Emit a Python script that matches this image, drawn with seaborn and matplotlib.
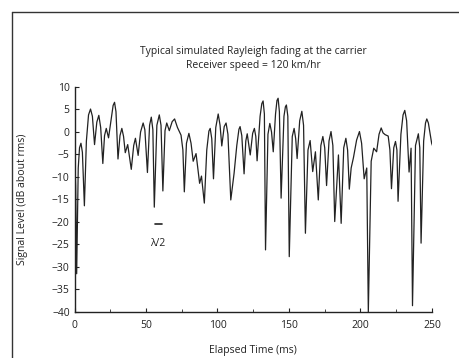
import seaborn as sns
import matplotlib
matplotlib.use("Agg")
import matplotlib.pyplot as plt
from matplotlib.lines import Line2D
import pandas as pd

# points: time in ms
time_ms = [0.0, 0.8, 1.5, 2.6, 3.5, 4.5, 5.5, 6.9, 8.3, 9.8,
           11.2, 12.5, 14.0, 15.6, 17.0, 18.3, 19.8, 21.0, 22.2, 23.8,
           25.5, 27.0, 28.0, 29.0, 30.4, 31.8, 33.1, 34.3, 35.5, 37.2,
           39.7, 41.4, 42.6, 44.5, 46.2, 48.0, 49.2, 51.0, 52.5, 53.7,
           54.8, 55.8, 57.6, 59.3, 60.5, 61.8, 63.3, 64.5, 66.3, 68.3,
           70.0, 72.0, 74.5, 75.8, 76.8, 78.3, 80.0, 81.5, 83.0, 85.0,
           87.5, 88.8, 90.8, 92.5, 94.0, 94.9, 96.0, 97.2, 98.8, 100.5,
           101.8, 103.0, 104.7, 106.0, 107.3, 109.3, 111.6, 113.5, 115.0, 115.8,
           117.0, 118.6, 119.8, 120.8, 122.9, 124.6, 125.8, 126.8, 127.7, 129.8,
           131.0, 131.9, 132.8, 133.6, 135.3, 136.6, 137.8, 139.0, 140.6, 141.6,
           142.4, 143.3, 144.5, 146.5, 147.5, 148.2, 149.2, 150.2, 152.3, 153.6,
           154.7, 155.7, 157.5, 159.0, 160.2, 161.5, 163.3, 164.8, 166.6, 168.5,
           170.5, 172.3, 173.7, 175.0, 176.3, 178.0, 179.4, 180.7, 182.0, 184.6,
           186.5, 188.3, 189.8, 191.0, 192.2, 193.5, 195.1, 197.3, 199.3, 200.8,
           202.6, 204.4, 205.5, 207.5, 209.3, 211.3, 213.0, 214.5, 215.8, 217.3,
           219.4, 220.6, 221.7, 223.3, 224.5, 225.5, 226.3, 228.3, 229.8, 231.0,
           232.3, 234.0, 235.4, 236.4, 238.5, 240.5, 241.5, 242.4, 244.2, 245.5,
           246.4, 247.5, 249.0, 249.8, 251.5]
# level in dB about rms at the same points
level_db = [-4.0, -12.0, -31.5, -8.0, -3.5, -2.5, -4.5, -16.4, -2.0, 3.8,
            5.1, 3.5, -2.8, 2.2, 3.7, 1.0, -7.0, -0.8, 0.8, -1.3,
            2.5, 5.9, 6.6, 4.5, -6.0, -0.8, 0.8, -1.0, -4.6, -2.8,
            -8.3, -3.0, -1.4, -5.2, 0.0, 2.0, 0.5, -9.0, 1.5, 3.3,
            0.5, -16.7, 1.5, 3.8, 1.5, -13.1, 0.3, 2.0, 0.3, 2.3,
            2.9, 1.0, -0.7, -4.0, -13.3, -2.5, -0.3, -2.5, -6.5, -4.8,
            -11.4, -9.8, -15.8, -4.0, 0.2, 0.8, -1.5, -10.4, 1.0, 4.0,
            1.5, -3.1, 1.2, 2.0, -0.5, -15.1, -9.2, -3.0, 0.6, 1.2,
            -0.8, -9.3, -2.0, -0.4, -5.1, -0.3, 0.8, -1.0, -6.4, 3.5,
            6.3, 6.9, 4.0, -26.2, -0.5, 1.9, 0.0, -4.4, 4.0, 7.0,
            7.5, 4.5, -14.7, 3.5, 5.6, 6.0, 3.5, -27.7, -1.0, 0.8,
            -1.5, -5.9, 2.5, 4.6, 1.5, -22.5, -4.0, -1.9, -8.8, -4.4,
            -15.1, -3.0, -1.0, -3.5, -11.9, -2.0, 0.1, -3.0, -19.9, -5.1,
            -20.3, -3.5, -1.4, -4.0, -12.7, -8.0, -5.7, -1.8, 0.1, -2.5,
            -10.4, -8.0, -40.0, -6.5, -3.6, -4.4, -0.5, 0.9, -0.2, -0.6,
            -0.9, -4.0, -12.6, -3.5, -2.1, -4.0, -15.4, -0.5, 3.8, 4.8,
            2.5, -8.9, -3.6, -38.6, -3.0, -0.4, -3.5, -24.7, -2.0, 2.0,
            2.9, 2.0, -1.0, -2.5, -4.0]

x_ticks = [0, 50, 100, 150, 200, 250]
x_minor = [25, 75, 125, 175, 225]
y_ticks = [10, 5, 0, -5, -10, -15, -20, -25, -30, -35, -40]

df = pd.DataFrame({"t": time_ms, "db": level_db})

sns.set_style("ticks")
plt.rcParams["font.family"] = ["Open Sans", "DejaVu Sans"]
ink = "#222222"

fig = plt.figure(figsize=(4.6, 3.58), dpi=100)
ax = fig.add_axes([0.162, 0.1285, 0.777, 0.6285])

sns.lineplot(data=df, x="t", y="db", ax=ax, color=ink, linewidth=0.9)

ax.set_xlim(0, 250)
ax.set_ylim(-40, 10)
ax.set_xticks(x_ticks)
ax.set_xticks(x_minor, minor=True)
ax.set_yticks(y_ticks)
ax.tick_params(direction="in", length=3, width=0.8, labelsize=7.5, colors=ink)
ax.tick_params(which="minor", direction="in", length=2, width=0.6)
ax.tick_params(axis="x", pad=6)
sns.despine(ax=ax)
for s in ["left", "bottom"]:
    ax.spines[s].set_linewidth(1.0)
    ax.spines[s].set_color(ink)

ax.set_xlabel("Elapsed Time (ms)", fontsize=7.5, color=ink)
ax.set_ylabel("Signal Level (dB about rms)", fontsize=7.5, color=ink)
ax.xaxis.set_label_coords(0.5, -0.145)
ax.yaxis.set_label_coords(-0.13, 0.5)

# half-wavelength marker
ax.plot([56, 61], [-20.4, -20.4], color=ink, linewidth=1.2)
ax.text(58.5, -24.8, "λ/2", fontsize=7.5, ha="center", va="center", color=ink)

fig.text(0.55, 0.855, "Typical simulated Rayleigh fading at the carrier",
         fontsize=7.5, ha="center", va="center", color=ink)
fig.text(0.55, 0.816, "Receiver speed = 120 km/hr",
         fontsize=7.5, ha="center", va="center", color=ink)

# scanned page border
fig.add_artist(Line2D([0.026, 1.0], [0.966, 0.966], color="#333333", linewidth=1.0))
fig.add_artist(Line2D([0.026, 0.026], [0.0, 0.966], color="#333333", linewidth=1.0))

fig.savefig("out.png", dpi=100)
